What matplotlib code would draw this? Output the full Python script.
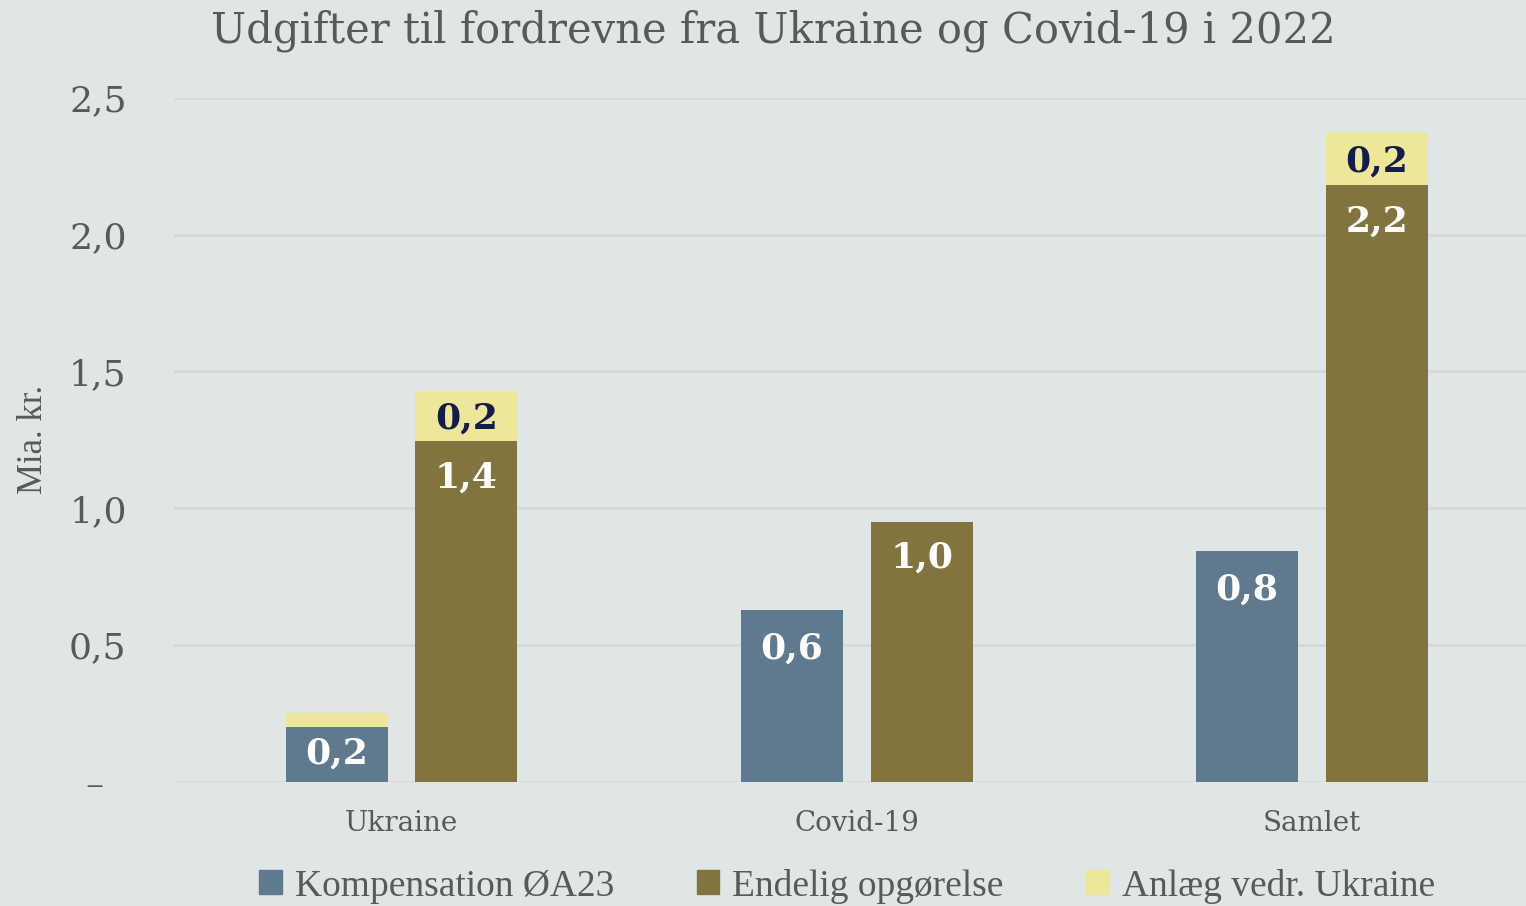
"""Udgifter til fordrevne fra Ukraine og Covid-19 i 2022 - stablet søjlediagram."""

import matplotlib

matplotlib.use("Agg")

import matplotlib.pyplot as plt
import numpy as np
from matplotlib.patches import Patch

# Data (mia. kr.)
categories = ["Ukraine", "Covid-19", "Samlet"]
kompensation = [0.20, 0.63, 0.845]
endelig = [1.245, 0.95, 2.18]
anlaeg_kompensation = [0.05, 0.0, 0.0]
anlaeg_endelig = [0.185, 0.0, 0.195]

kompensation_labels = ["0,2", "0,6", "0,8"]
endelig_labels = ["1,4", "1,0", "2,2"]
anlaeg_labels = ["0,2", "", "0,2"]

y_ticks = [0, 0.5, 1.0, 1.5, 2.0, 2.5]
y_ticklabels = ["–  ", "0,5", "1,0", "1,5", "2,0", "2,5"]

BG = "#e0e6e6"
BLUE = "#5f7a8e"
BROWN = "#82743e"
YELLOW = "#ede79a"
GREY_TEXT = "#595959"
NAVY = "#131c4d"
SERIF = "DejaVu Serif"

fig = plt.figure(figsize=(15.26, 9.06), dpi=100, facecolor=BG)
ax = fig.add_axes([0.114, 0.137, 0.886, 0.755], facecolor=BG)

x = np.arange(len(categories))
width = 0.224
offset = 0.1425

ax.bar(x - offset, kompensation, width, color=BLUE, zorder=3)
ax.bar(x - offset, anlaeg_kompensation, width, bottom=kompensation, color=YELLOW, zorder=3)
ax.bar(x + offset, endelig, width, color=BROWN, zorder=3)
ax.bar(x + offset, anlaeg_endelig, width, bottom=endelig, color=YELLOW, zorder=3)

label_style = dict(ha="center", va="center", textcoords="offset points",
                   fontsize=26, fontweight="bold", family=SERIF, zorder=4)

for xi, val, lab in zip(x, kompensation, kompensation_labels):
    shift = -28 if val > 0.4 else -19
    ax.annotate(lab, (xi - offset, val), xytext=(0, shift), color="white", **label_style)

for xi, val, lab in zip(x, endelig, endelig_labels):
    ax.annotate(lab, (xi + offset, val), xytext=(0, -26), color="white", **label_style)

for xi, base, val, lab in zip(x, endelig, anlaeg_endelig, anlaeg_labels):
    if lab:
        ax.annotate(lab, (xi + offset, base + val / 2), xytext=(0, -2), color=NAVY, **label_style)

ax.set_xlim(-0.5, 2.47)
ax.set_ylim(0, 2.5)
ax.set_yticks(y_ticks)
ax.set_yticklabels(y_ticklabels, family=SERIF, fontsize=26, color=GREY_TEXT)
ax.set_xticks(x)
ax.set_xticklabels(categories, family=SERIF, fontsize=20, color=GREY_TEXT)
ax.tick_params(axis="y", length=0, pad=34)
ax.tick_params(axis="x", length=0, pad=20)
ax.grid(axis="y", color="#d8d8d8", linewidth=2, zorder=0)
for spine in ax.spines.values():
    spine.set_visible(False)

ax.set_ylabel("Mia. kr.", family="Liberation Serif", fontsize=25, color=GREY_TEXT)
ax.yaxis.set_label_coords(-0.092, 0.5)

fig.text(0.507, 0.966, "Udgifter til fordrevne fra Ukraine og Covid-19 i 2022",
         ha="center", va="center", family=SERIF, fontsize=30, color=GREY_TEXT)

handles = [
    Patch(color=BLUE, label="Kompensation ØA23"),
    Patch(color=BROWN, label="Endelig opgørelse"),
    Patch(color=YELLOW, label="Anlæg vedr. Ukraine"),
]
fig.legend(handles=handles, loc="center", bbox_to_anchor=(0.555, 0.022), ncol=3,
           frameon=False, prop={"family": "Liberation Serif", "size": 27},
           labelcolor=GREY_TEXT, handlelength=0.6, handleheight=0.6,
           handletextpad=0.35, columnspacing=2.2)

fig.savefig("out.png", dpi=100, facecolor=BG)
